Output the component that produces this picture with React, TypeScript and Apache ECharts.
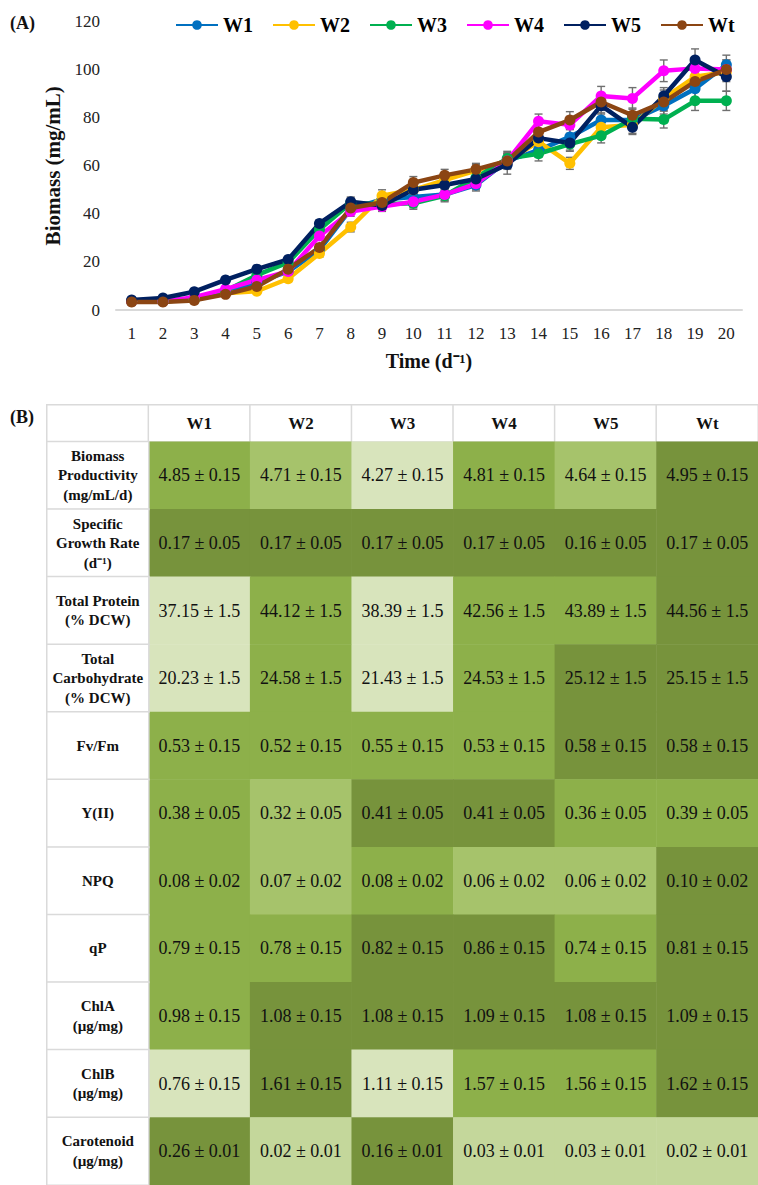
import React, { useEffect, useRef } from "react";
import * as echarts from "echarts";

// ---------- (A) growth curves ----------
const days = ["1", "2", "3", "4", "5", "6", "7", "8", "9", "10", "11", "12", "13", "14", "15", "16", "17", "18", "19", "20"];
const seriesNames = ["W1", "W2", "W3", "W4", "W5", "Wt"];
const seriesColors = ["#0070C0", "#FFC000", "#00B050", "#FF00FF", "#002060", "#8B4513"];

const w1 = [3.8, 3.6, 4.8, 7.8, 11.5, 16, 25, 42, 46, 47, 48, 52, 62, 66.5, 72, 79, 79, 85, 92, 102];
const w2 = [3.5, 3.5, 4.5, 7, 7.8, 13, 23.5, 34.5, 47.5, 50, 54, 58, 62, 70, 61, 76, 77, 88, 97, 99];
const w3 = [3.5, 3.5, 4.5, 8, 14.5, 19.8, 33.5, 44.5, 44, 44.4, 47.5, 55, 63, 65, 69, 72.5, 79.5, 79.2, 87, 87];
const w4 = [3.5, 3.5, 5.3, 8.7, 12.5, 16, 30.8, 41, 43, 45, 48, 52.5, 62, 78.5, 77, 89, 88, 99.5, 100.5, 100];
const w5 = [4.2, 5, 7.6, 12.5, 17, 21, 36, 45, 43.5, 50, 52, 54.5, 60.5, 71.5, 69.5, 85, 76, 89, 104, 97];
const wt = [3.3, 3.3, 4, 6.5, 9.8, 17, 26, 42.4, 44.7, 53, 56, 58.5, 62, 74, 79, 86.5, 81, 86.5, 95, 100];

const w1Err = [0.4, 0.4, 0.5, 0.8, 1, 1.2, 1.5, 2, 2, 2.5, 2.5, 2.5, 3, 3, 3, 3, 3.5, 3.5, 4, 4];
const w2Err = [0.4, 0.4, 0.5, 0.8, 1, 1.2, 1.5, 2, 2.5, 2.5, 2.5, 2.5, 3, 3, 2.5, 3, 3.5, 3.5, 4, 4];
const w3Err = [0.4, 0.4, 0.5, 0.8, 1, 1.2, 1.5, 2, 2, 2.5, 2.5, 2.5, 3, 3, 3, 3, 3, 3.5, 4, 4];
const w4Err = [0.4, 0.4, 0.5, 0.8, 1, 1.2, 1.5, 2, 2, 2.5, 2.5, 2.5, 3, 3, 3.5, 4, 4.5, 4.5, 4, 4];
const w5Err = [0.4, 0.4, 0.5, 0.8, 1, 1.2, 1.5, 2, 2, 2.5, 2.5, 2.5, 4, 3, 3, 3.5, 3, 3.5, 4.6, 6];
const wtErr = [0.4, 0.4, 0.5, 0.8, 1, 1.2, 1.5, 2, 2, 2.5, 2.5, 2.5, 3.5, 3, 3.5, 3.5, 3, 3.5, 4, 4];

const seriesValues = [w1, w2, w3, w4, w5, wt];
const seriesErrors = [w1Err, w2Err, w3Err, w4Err, w5Err, wtErr];

// ---------- (B) table ----------
const groups = ["W1", "W2", "W3", "W4", "W5", "Wt"];
const parameters = [
  "Biomass\nProductivity\n(mg/mL/d)",
  "Specific\nGrowth Rate\n(d⁻¹)",
  "Total Protein\n(% DCW)",
  "Total\nCarbohydrate\n(% DCW)",
  "Fv/Fm",
  "Y(II)",
  "NPQ",
  "qP",
  "ChlA\n(µg/mg)",
  "ChlB\n(µg/mg)",
  "Carotenoid\n(µg/mg)",
];
const prodMean = [4.85, 4.71, 4.27, 4.81, 4.64, 4.95];
const sgrMean = [0.17, 0.17, 0.17, 0.17, 0.16, 0.17];
const proteinMean = [37.15, 44.12, 38.39, 42.56, 43.89, 44.56];
const carbMean = [20.23, 24.58, 21.43, 24.53, 25.12, 25.15];
const fvfmMean = [0.53, 0.52, 0.55, 0.53, 0.58, 0.58];
const yiiMean = [0.38, 0.32, 0.41, 0.41, 0.36, 0.39];
const npqMean = [0.08, 0.07, 0.08, 0.06, 0.06, 0.1];
const qpMean = [0.79, 0.78, 0.82, 0.86, 0.74, 0.81];
const chlaMean = [0.98, 1.08, 1.08, 1.09, 1.08, 1.09];
const chlbMean = [0.76, 1.61, 1.11, 1.57, 1.56, 1.62];
const carotMean = [0.26, 0.02, 0.16, 0.03, 0.03, 0.02];
const rowSd = [0.15, 0.05, 1.5, 1.5, 0.15, 0.05, 0.02, 0.15, 0.15, 0.15, 0.01];

// shade level of each cell (1 = lightest ... 5 = darkest)
const prodShade = [4, 3, 1, 4, 3, 5];
const sgrShade = [5, 5, 5, 5, 5, 5];
const proteinShade = [1, 4, 1, 4, 4, 5];
const carbShade = [1, 4, 1, 4, 5, 5];
const fvfmShade = [4, 4, 4, 4, 5, 5];
const yiiShade = [4, 3, 5, 5, 4, 4];
const npqShade = [4, 3, 4, 3, 3, 5];
const qpShade = [4, 4, 5, 5, 4, 5];
const chlaShade = [4, 5, 5, 5, 5, 5];
const chlbShade = [1, 5, 1, 4, 4, 5];
const carotShade = [5, 2, 5, 2, 2, 2];

const rowMeans = [prodMean, sgrMean, proteinMean, carbMean, fvfmMean, yiiMean, npqMean, qpMean, chlaMean, chlbMean, carotMean];
const rowShades = [prodShade, sgrShade, proteinShade, carbShade, fvfmShade, yiiShade, npqShade, qpShade, chlaShade, chlbShade, carotShade];

const SERIF = "'Liberation Serif', 'Times New Roman', serif";
const shadeColors = ["#FFFFFF", "#D8E4BC", "#C4D79B", "#A6C36B", "#8DB04A", "#77933C"];

export default function App() {
  const ref = useRef<HTMLDivElement>(null);

  useEffect(() => {
    if (!ref.current) return;
    const chart = echarts.init(ref.current, undefined, { renderer: "svg" });

    const colKeys = ["", ...groups];
    const whiteCell = { borderColor: "#DADADA", borderWidth: 1.5 };

    const headerData: any[] = colKeys.map((g, i) => ({
      value: [i, 0, 0],
      txt: g,
      itemStyle: whiteCell,
      label: { fontWeight: "bold", fontSize: 17 },
    }));

    const bodyData: any[] = [];
    rowMeans.forEach((means, r) => {
      means.forEach((m, c) => {
        const s = rowShades[r][c];
        bodyData.push({
          value: [c + 1, r, s],
          txt: `${m.toFixed(2)} ± ${String(rowSd[r])}`,
          itemStyle: { borderWidth: 0 },
        });
      });
    });
    parameters.forEach((p, r) => {
      bodyData.push({
        value: [0, r, 0],
        txt: p,
        itemStyle: whiteCell,
        label: { fontWeight: "bold", fontSize: 15, lineHeight: 19.5 },
      });
    });

    const lineSeries: any[] = seriesNames.map((n, i) => ({
      type: "line",
      name: n,
      xAxisIndex: 0,
      yAxisIndex: 0,
      data: seriesValues[i],
      symbol: "circle",
      symbolSize: 11,
      lineStyle: { width: 4.5, color: seriesColors[i] },
      itemStyle: { color: seriesColors[i] },
      z: 3,
    }));

    const errorSeries: any[] = seriesNames.map((n, i) => ({
      type: "custom",
      name: n + " error",
      xAxisIndex: 0,
      yAxisIndex: 0,
      z: 2,
      silent: true,
      encode: { x: 0, y: 1 },
      data: seriesValues[i].map((v, k) => [k, v, seriesErrors[i][k]]),
      renderItem: (params: any, api: any) => {
        const x = api.value(0);
        const y = api.value(1);
        const e = api.value(2);
        const top = api.coord([x, y + e]);
        const bot = api.coord([x, y - e]);
        const hw = 4;
        const st = { stroke: "#6F6F6F", lineWidth: 1.4 };
        return {
          type: "group",
          children: [
            { type: "line", shape: { x1: top[0], y1: top[1], x2: bot[0], y2: bot[1] }, style: st },
            { type: "line", shape: { x1: top[0] - hw, y1: top[1], x2: top[0] + hw, y2: top[1] }, style: st },
            { type: "line", shape: { x1: bot[0] - hw, y1: bot[1], x2: bot[0] + hw, y2: bot[1] }, style: st },
          ],
        };
      },
    }));

    const cellLabel = {
      show: true,
      formatter: (p: any) => p.data.txt,
      fontFamily: SERIF,
      fontSize: 18,
      color: "#111111",
    };

    const nLine = errorSeries.length + lineSeries.length;

    chart.setOption({
      animation: false,
      backgroundColor: "#FFFFFF",
      textStyle: { fontFamily: SERIF },
      graphic: [
        { type: "text", left: 10, top: 14, style: { text: "(A)", font: `bold 18px ${SERIF}`, fill: "#111" } },
        { type: "text", left: 10, top: 408, style: { text: "(B)", font: `bold 18px ${SERIF}`, fill: "#111" } },
      ],
      legend: {
        data: seriesNames,
        left: 170,
        top: 10,
        itemWidth: 42,
        itemHeight: 12,
        itemGap: 19,
        textStyle: { fontFamily: SERIF, fontWeight: "bold", fontSize: 20, color: "#000" },
      },
      visualMap: {
        type: "piecewise",
        show: false,
        dimension: 2,
        seriesIndex: [nLine, nLine + 1],
        pieces: shadeColors.map((c, i) => ({ value: i, color: c })),
      },
      grid: [
        { left: 116, top: 21.5, width: 626, height: 288.5 },
        { left: 47, top: 405, width: 716, height: 36.7 },
        { left: 47, top: 441.7, width: 716, height: 750 },
      ],
      xAxis: [
        {
          type: "category",
          gridIndex: 0,
          data: days,
          boundaryGap: true,
          axisLine: { lineStyle: { color: "#D9D9D9", width: 2 } },
          axisTick: { show: false },
          axisLabel: { fontFamily: SERIF, fontSize: 17, color: "#222", margin: 15 },
          name: "Time (d⁻¹)",
          nameLocation: "middle",
          nameGap: 41,
          nameTextStyle: { fontFamily: SERIF, fontWeight: "bold", fontSize: 20, color: "#111" },
        },
        { type: "category", gridIndex: 1, data: colKeys, show: false },
        { type: "category", gridIndex: 2, data: colKeys, show: false },
      ],
      yAxis: [
        {
          type: "value",
          gridIndex: 0,
          min: 0,
          max: 120,
          interval: 20,
          splitLine: { show: false },
          axisLine: { show: false },
          axisTick: { show: false },
          axisLabel: { fontFamily: SERIF, fontSize: 17, color: "#222", margin: 16 },
          name: "Biomass (mg/mL)",
          nameLocation: "middle",
          nameGap: 48,
          nameTextStyle: { fontFamily: SERIF, fontWeight: "bold", fontSize: 21, color: "#111" },
        },
        { type: "category", gridIndex: 1, data: ["header"], show: false },
        { type: "category", gridIndex: 2, data: parameters, inverse: true, show: false },
      ],
      series: [
        ...errorSeries,
        ...lineSeries,
        {
          type: "heatmap",
          name: "header",
          xAxisIndex: 1,
          yAxisIndex: 1,
          data: headerData,
          label: cellLabel,
          emphasis: { disabled: true },
        },
        {
          type: "heatmap",
          name: "table",
          xAxisIndex: 2,
          yAxisIndex: 2,
          data: bodyData,
          label: cellLabel,
          emphasis: { disabled: true },
        },
      ],
    });

    return () => chart.dispose();
  }, []);

  return (
    <div
      ref={ref}
      style={{ position: "absolute", left: 0, top: 0, width: 758, height: 1185, background: "#fff" }}
    />
  );
}
